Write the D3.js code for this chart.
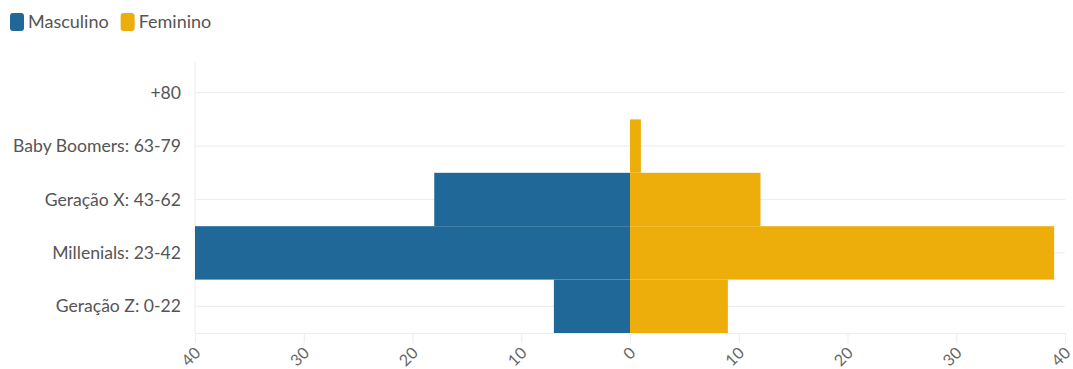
<!DOCTYPE html>
<html>
<head>
<meta charset="utf-8">
<script src="https://cdn.jsdelivr.net/npm/d3@7"></script>
<style>
  body { margin: 0; background: #fff; }
  svg { display: block; }
  svg text { font-family: Lato, "Noto Sans", sans-serif; }
</style>
</head>
<body>
<svg id="chart" width="1073" height="369"></svg>
<script>
// Age groups, top to bottom
const categories = ["+80", "Baby Boomers: 63-79", "Geração X: 43-62", "Millenials: 23-42", "Geração Z: 0-22"];
const masculino = [0, 0, 18, 40, 7];
const feminino = [0, 1, 12, 39, 9];
const xTicks = [-40, -30, -20, -10, 0, 10, 20, 30, 40];
const seriesNames = ["Masculino", "Feminino"];
const colors = ["#1f6898", "#edae0b"];

const svg = d3.select("#chart");
const margin = { left: 195, right: 8, top: 66, bottom: 36 };
const W = 1073, H = 369;
const FONT = "Lato, 'Noto Sans', sans-serif";

const x = d3.scaleLinear().domain([-40, 40]).range([margin.left, W - margin.right]);
const y = d3.scaleBand().domain(categories).range([margin.top, H - margin.bottom]).padding(0);

// horizontal gridlines at each category
svg.append("g").selectAll("line").data(categories).join("line")
  .attr("x1", x(-40)).attr("x2", x(40))
  .attr("y1", d => y(d) + y.bandwidth() / 2).attr("y2", d => y(d) + y.bandwidth() / 2)
  .attr("stroke", "#ececec").attr("stroke-width", 1);

// left vertical line
svg.append("line")
  .attr("x1", x(-40)).attr("x2", x(-40))
  .attr("y1", margin.top - 4).attr("y2", H - margin.bottom)
  .attr("stroke", "#ececec");

// bars
const rows = categories.map((c, i) => ({ c, m: masculino[i], f: feminino[i] }));
svg.append("g").selectAll("rect").data(rows.filter(r => r.m > 0)).join("rect")
  .attr("x", d => x(-d.m)).attr("width", d => x(0) - x(-d.m))
  .attr("y", d => y(d.c)).attr("height", y.bandwidth())
  .attr("fill", colors[0]);
svg.append("g").selectAll("rect").data(rows.filter(r => r.f > 0)).join("rect")
  .attr("x", x(0)).attr("width", d => x(d.f) - x(0))
  .attr("y", d => y(d.c)).attr("height", y.bandwidth())
  .attr("fill", colors[1]);

// x axis
const xAxis = svg.append("g")
  .attr("transform", `translate(0,${H - margin.bottom})`)
  .call(d3.axisBottom(x).tickValues(xTicks).tickFormat(d => Math.abs(d)).tickSize(10));
xAxis.attr("font-family", FONT);
xAxis.select(".domain").attr("stroke", "#ececec");
xAxis.selectAll(".tick line").attr("stroke", "#ececec");
xAxis.selectAll(".tick text")
  .attr("fill", "#666").attr("font-size", 16)
  .attr("text-anchor", "end")
  .attr("x", 0).attr("y", 0).attr("dy", 0)
  .attr("transform", "translate(6,21) rotate(-45)");

// y axis labels
const yAxis = svg.append("g")
  .attr("transform", `translate(${x(-40)},0)`)
  .call(d3.axisLeft(y).tickSize(0).tickPadding(14));
yAxis.attr("font-family", FONT);
yAxis.select(".domain").remove();
yAxis.selectAll(".tick text").attr("fill", "#555").attr("font-size", 17.6).attr("dy", "0.35em");

// legend
const legend = svg.append("g").attr("transform", "translate(10,13)");
let lx = 0;
seriesNames.forEach((name, i) => {
  const g = legend.append("g").attr("transform", `translate(${lx},0)`);
  g.append("rect").attr("width", 14).attr("height", 18).attr("rx", 3).attr("fill", colors[i]);
  const t = g.append("text").attr("x", 18).attr("y", 15).attr("font-size", 18).attr("fill", "#555").text(name);
  lx += 18 + t.node().getComputedTextLength() + 12;
});
</script>
</body>
</html>
